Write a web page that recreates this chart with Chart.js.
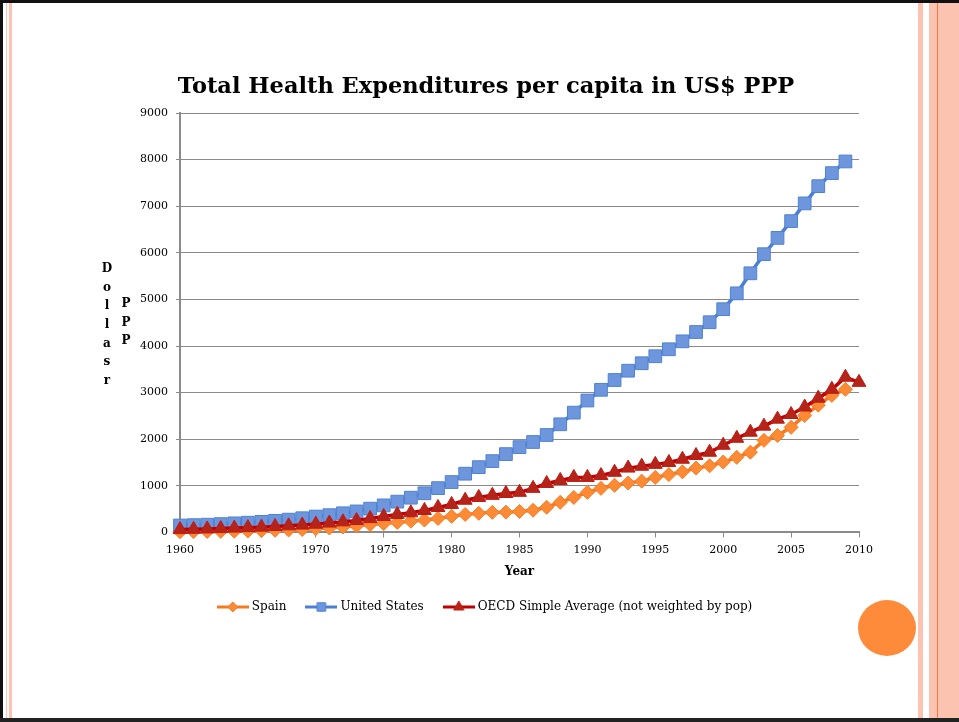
<!DOCTYPE html>
<html>
<head>
<meta charset="utf-8">
<script src="https://cdn.jsdelivr.net/npm/chart.js@4/dist/chart.umd.min.js"></script>
<style>
  html, body { margin: 0; padding: 0; background: #fff; }
  #slide { position: relative; width: 959px; height: 722px; overflow: hidden; background: #fff; }
  .bar { position: absolute; }
  #chartCanvas { position: absolute; left: 0; top: 0; }
</style>
</head>
<body>
<div id="slide">
  <!-- slide frame -->
  <div class="bar" style="left:0;top:0;width:959px;height:3px;background:#111;"></div>
  <div class="bar" style="left:0;top:0;width:3px;height:722px;background:#111;"></div>
  <div class="bar" style="left:0;top:718px;width:959px;height:4px;background:#222;"></div>
  <div class="bar" style="left:6px;top:3px;width:1px;height:715px;background:#fcc8b6;"></div>
  <div class="bar" style="left:9px;top:3px;width:3px;height:715px;background:#fcc4b0;"></div>
  <div class="bar" style="left:918px;top:3px;width:5px;height:715px;background:#fcc4b0;"></div>
  <div class="bar" style="left:929px;top:3px;width:30px;height:715px;background:#fcc4b0;"></div>
  <div class="bar" style="left:937px;top:3px;width:1px;height:715px;background:#f07a40;"></div>
  <div class="bar" style="left:858px;top:600px;width:58px;height:56px;border-radius:50%;background:#fd8b3a;"></div>
  <canvas id="chartCanvas" width="959" height="722"></canvas>
</div>
<script>
// Yıllar ve harcama verileri (US$ PPP, kişi başı)
const years = [];
for (let y = 1960; y <= 2010; y++) years.push(y);

const spain = [15, 17, 20, 23, 27, 32, 38, 45, 52, 62,
    82, 96, 115, 140, 170, 190, 215, 240, 265, 300,
    345, 385, 410, 430, 435, 450, 475, 540, 645, 750,
    860, 945, 1010, 1060, 1100, 1180, 1240, 1300, 1380, 1430,
    1510, 1610, 1720, 1975, 2080, 2255, 2510, 2730, 2940, 3070];

const unitedStates = [148, 156, 166, 178, 194, 208, 226, 248, 274, 304,
    340, 370, 410, 450, 510, 580, 660, 745, 840, 950,
    1080, 1260, 1400, 1530, 1680, 1830, 1940, 2090, 2320, 2570,
    2830, 3060, 3270, 3470, 3630, 3780, 3930, 4100, 4300, 4510,
    4790, 5130, 5560, 5970, 6320, 6680, 7060, 7430, 7710, 7960];

const oecdAverage = [60, 66, 74, 82, 92, 102, 113, 126, 141, 157,
    176, 200, 226, 256, 296, 340, 385, 420, 470, 535,
    600, 690, 750, 795, 835, 860, 945, 1050, 1115, 1180,
    1180, 1220, 1290, 1380, 1420, 1460, 1500, 1570, 1650, 1720,
    1870, 2020, 2150, 2280, 2430, 2530, 2690, 2880, 3070, 3330,
    3220];

const seriesNames = ['Spain', 'United States', 'OECD Simple Average (not weighted by pop)'];
const yTicks = [0, 1000, 2000, 3000, 4000, 5000, 6000, 7000, 8000, 9000];
const xTicks = [1960, 1965, 1970, 1975, 1980, 1985, 1990, 1995, 2000, 2005, 2010];

const serif = '"DejaVu Serif", "Liberation Serif", serif';
const gridGray = '#8a8a8a';

const toPoints = (values) => values.map((v, i) => ({ x: years[i], y: v }));

// Lejant için çizgi + işaret örneği
const legendSample = (lineColor, fill, border, style, radius) => {
    const c = document.createElement('canvas');
    c.width = 32;
    c.height = 14;
    const g = c.getContext('2d');
    g.strokeStyle = lineColor;
    g.lineWidth = 3;
    g.beginPath();
    g.moveTo(0, 7);
    g.lineTo(32, 7);
    g.stroke();
    g.fillStyle = fill;
    g.strokeStyle = border;
    g.lineWidth = 1;
    Chart.helpers.drawPoint(g, { pointStyle: style, radius: radius, borderWidth: 1, rotation: 0 }, 16, 7);
    return c;
};

// Dikey yığılmış eksen başlığı (harfler alt alta)
const stackedAxisTitle = {
    id: 'stackedAxisTitle',
    afterDraw(chart) {
        const { ctx, chartArea } = chart;
        ctx.save();
        ctx.font = 'bold 12px ' + serif;
        ctx.fillStyle = '#000';
        ctx.textAlign = 'center';
        ctx.textBaseline = 'middle';
        ['D', 'o', 'l', 'l', 'a', 's', 'r'].forEach((ch, i) => {
            ctx.fillText(ch, chartArea.left - 73, 269 + i * 18.6);
        });
        ['P', 'P', 'P'].forEach((ch, i) => {
            ctx.fillText(ch, chartArea.left - 54, 304 + i * 18.6);
        });
        ctx.restore();
    }
};

const styles = [
    { line: '#f7791f', fill: '#fd8a35', border: '#f47d24', point: 'rectRot', r: 7, lr: 5 },
    { line: '#4a7fd4', fill: '#6e96dc', border: '#4f82d2', point: 'rect', r: 9, lr: 6 },
    { line: '#c00000', fill: '#b3241a', border: '#c41a10', point: 'triangle', r: 8, lr: 6 }
];
const seriesData = [spain, unitedStates, oecdAverage];

const createHealthChart = () => {
    const ctx = document.getElementById('chartCanvas').getContext('2d');
    new Chart(ctx, {
        type: 'line',
        data: {
            datasets: seriesData.map((values, i) => ({
                label: seriesNames[i],
                data: toPoints(values),
                borderColor: styles[i].line,
                borderWidth: 3.5,
                backgroundColor: styles[i].fill,
                pointStyle: styles[i].point,
                pointRadius: styles[i].r,
                pointBackgroundColor: styles[i].fill,
                pointBorderColor: styles[i].border,
                pointBorderWidth: 1,
                tension: 0,
                clip: false,
                order: 3 - i
            }))
        },
        options: {
            responsive: false,
            animation: false,
            events: [],
            layout: { padding: { left: 113, right: 100, top: 74, bottom: 99 } },
            plugins: {
                tooltip: { enabled: false },
                title: {
                    display: true,
                    text: 'Total Health Expenditures per capita in US$ PPP',
                    color: '#000',
                    font: { family: serif, size: 22.5, weight: 'bold' },
                    padding: { top: 0, bottom: 12 }
                },
                legend: {
                    position: 'bottom',
                    labels: {
                        usePointStyle: true,
                        pointStyleWidth: 26,
                        padding: 22,
                        color: '#000',
                        font: { family: serif, size: 12 },
                        generateLabels: (chart) => chart.data.datasets.map((ds, i) => ({
                            text: ds.label,
                            pointStyle: legendSample(styles[i].line, styles[i].fill, styles[i].border, styles[i].point, styles[i].lr),
                            fillStyle: styles[i].fill,
                            strokeStyle: styles[i].line,
                            lineWidth: 0,
                            hidden: false,
                            datasetIndex: i
                        }))
                    }
                }
            },
            scales: {
                x: {
                    type: 'linear',
                    min: 1960,
                    max: 2010,
                    afterBuildTicks: (scale) => { scale.ticks = xTicks.map(v => ({ value: v })); },
                    ticks: {
                        color: '#000',
                        padding: 6,
                        maxRotation: 0,
                        font: { family: serif, size: 11 },
                        callback: (v) => String(v)
                    },
                    grid: { drawOnChartArea: false, drawTicks: true, tickLength: 5, color: gridGray },
                    border: { color: gridGray, width: 2 },
                    title: {
                        display: true,
                        text: 'Year',
                        color: '#000',
                        font: { family: serif, size: 12, weight: 'bold' },
                        padding: { top: 2, bottom: 0 }
                    }
                },
                y: {
                    min: 0,
                    max: 9000,
                    afterBuildTicks: (scale) => { scale.ticks = yTicks.map(v => ({ value: v })); },
                    afterFit: (scale) => { scale.width = 67; },
                    ticks: {
                        color: '#000',
                        padding: 8,
                        font: { family: serif, size: 11 },
                        callback: (v) => String(v)
                    },
                    grid: { color: gridGray, lineWidth: 1, tickLength: 4 },
                    border: { color: gridGray, width: 2 }
                }
            }
        },
        plugins: [stackedAxisTitle]
    });
};

document.addEventListener('DOMContentLoaded', createHealthChart);
</script>
</body>
</html>
